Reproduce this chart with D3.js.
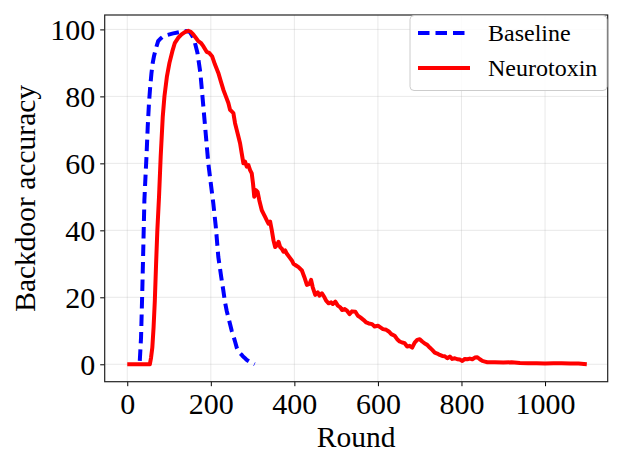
<!DOCTYPE html>
<html><head><meta charset="utf-8">
<script src="https://cdn.jsdelivr.net/npm/d3@7"></script>
<style>body{margin:0;background:#fff}svg{display:block}text{font-family:"Liberation Serif","DejaVu Serif",serif;fill:#000}</style>
</head><body><svg id="c" width="623" height="467"></svg>
<script>
const xTicks = [0, 200, 400, 600, 800, 1000];
const yTicks = [0, 20, 40, 60, 80, 100];
const seriesNames = ["Baseline", "Neurotoxin"];

const baselineRounds = [30,33,36,39,41,44,46,49,52,55,58,61,64,69,74,80,85,95,110,125,135,142,150,156,162,168,175,180,187,194,200,206,212,218,225,230,234,238,242,246,250,254,258,262,266,270,274,278,282,286,290,295,300,305];
const baselineValues = [1,8,22,38,49,57,62,71,78,83,87,90,92,94.5,96.5,97.3,97.8,98.3,98.8,99.2,99.4,99.5,99.2,98,96,93,87,80,70,60,54,48,41,32,26,22,18.5,16,14,12,10,8.5,6.8,5,3.8,3.3,2.8,2.2,1.8,1.3,1,0.6,0.3,0];

const neuroRounds = [0,20,40,54,57,60,63,66,69,72,76,80,85,89,95,101,108,114,122,130,138,146,152,158,164,170,176,182,190,196,203,210,218,224,230,236,242,246,250,254,258,262,266,270,274,278,282,286,290,294,298,301,304,308,312,316,322,326,330,334,338,342,346,350,354,358,362,366,370,374,378,382,388,394,398,404,410,418,424,430,436,440,444,450,456,460,466,472,476,482,488,492,498,504,510,514,520,526,532,538,546,552,558,566,572,578,586,592,600,606,612,620,626,632,640,646,652,658,664,670,676,682,688,694,700,706,712,718,724,730,736,742,748,754,760,766,772,778,784,790,796,802,808,814,820,826,832,838,844,850,856,862,880,900,920,940,960,980,1000,1020,1040,1060,1080,1100];
const neuroValues = [0,0,0,0,2,5,11,19,30,40,50,62,74,80,86,90,93.5,96,97.5,98.5,99.2,99.6,99.3,98.5,97.5,96.5,96,95,93.3,93,92,89.5,87,84.5,82,80,78,76,75.5,75,72,70,68,66,63,60,60.5,59,59.5,58,57,54,50,52,51.5,49,46,45,44,43,42,42.6,40,37,35,35.5,36.6,35,34.5,33.6,34,33,32,31,30,29.5,29,28,26,23.7,24,25.2,23,20.7,21.5,20.5,21.2,20,19,18.2,18.5,18,18.7,17.5,17,16.2,16.5,16,15,15.8,15.7,14.5,14,13.2,12.5,12.2,12,11.3,11.5,11,10.5,10.3,9.8,9,8.5,7.5,6.8,6.5,6.3,5.3,5.5,5,6.5,7.3,7.5,6.8,6.2,5.8,5,4.3,3.5,3.2,2.8,2.5,2.4,1.8,2.3,1.6,1.8,1.5,1.4,1,1.6,1.5,1.7,1.5,2,2.1,1.5,1,0.8,0.6,0.6,0.5,0.6,0.4,0.3,0.3,0.2,0.3,0.3,0.2,0.2,0];

const L = 104.7, R = 607.7, T = 15, B = 381.7;
const svg = d3.select("#c");
const x = d3.scaleLinear().domain([-54, 1150]).range([L, R]);
const y = d3.scaleLinear().domain([-5.2, 104.3]).range([B, T]);

// grid
const g = svg.append("g");
g.selectAll(".gx").data(xTicks).join("line").attr("x1", d => x(d)).attr("x2", d => x(d)).attr("y1", T).attr("y2", B).attr("stroke", "#b0b0b0").attr("stroke-opacity", 0.35).attr("stroke-width", 0.8);
g.selectAll(".gy").data(yTicks).join("line").attr("y1", d => y(d)).attr("y2", d => y(d)).attr("x1", L).attr("x2", R).attr("stroke", "#b0b0b0").attr("stroke-opacity", 0.35).attr("stroke-width", 0.8);

const line = d3.line().x(d => x(d[0])).y(d => y(d[1]));
const baseData = baselineRounds.map((r, i) => [r, baselineValues[i]]);
const neuroData = neuroRounds.map((r, i) => [r, neuroValues[i]]);

svg.append("path").datum(baseData).attr("d", line).attr("fill", "none").attr("stroke", "#0000ff").attr("stroke-width", 4).attr("stroke-dasharray", "11.5,6");
svg.append("path").datum(neuroData).attr("d", line).attr("fill", "none").attr("stroke", "#ff0000").attr("stroke-width", 4).attr("stroke-linejoin", "round");

// axes
const xa = svg.append("g").attr("transform", `translate(0,${B})`).call(d3.axisBottom(x).tickValues(xTicks).tickSize(4.5).tickPadding(6).tickFormat(d3.format("d")));
const ya = svg.append("g").attr("transform", `translate(${L},0)`).call(d3.axisLeft(y).tickValues(yTicks).tickSize(4.5).tickPadding(5).tickFormat(d3.format("d")));
[xa, ya].forEach(a => { a.select(".domain").remove(); a.selectAll("text").style("font-size", "30px").attr("font-family", "Liberation Serif"); a.selectAll("line").attr("stroke", "#000").attr("stroke-width", 1); });
ya.selectAll("text").attr("dy", "0.34em");
xa.selectAll("text").attr("dy", "0.72em");

svg.append("rect").attr("x", L).attr("y", T).attr("width", R - L).attr("height", B - T).attr("fill", "none").attr("stroke", "#222").attr("stroke-width", 1.2);

svg.append("text").attr("x", (L + R) / 2).attr("y", 447).attr("text-anchor", "middle").style("font-size", "29.5px").text("Round");
svg.append("text").attr("transform", `translate(35,${(T + B) / 2}) rotate(-90)`).attr("text-anchor", "middle").style("font-size", "29.5px").text("Backdoor accuracy");

// legend
const lg = svg.append("g");
lg.append("rect").attr("x", 410).attr("y", 15.5).attr("width", 197).attr("height", 75).attr("rx", 4).attr("fill", "#fff").attr("fill-opacity", 0.85).attr("stroke", "#cccccc").attr("stroke-width", 1);
const styles = [{c: "#0000ff", dash: "11.5,6"}, {c: "#ff0000", dash: null}];
seriesNames.forEach((n, i) => {
  const yy = 33 + i * 35;
  lg.append("line").attr("x1", 418).attr("x2", 470).attr("y1", yy).attr("y2", yy).attr("stroke", styles[i].c).attr("stroke-width", 4).attr("stroke-dasharray", styles[i].dash);
  lg.append("text").attr("x", 488).attr("y", yy).attr("dy", "0.35em").style("font-size", "24px").text(n);
});
</script></body></html>
